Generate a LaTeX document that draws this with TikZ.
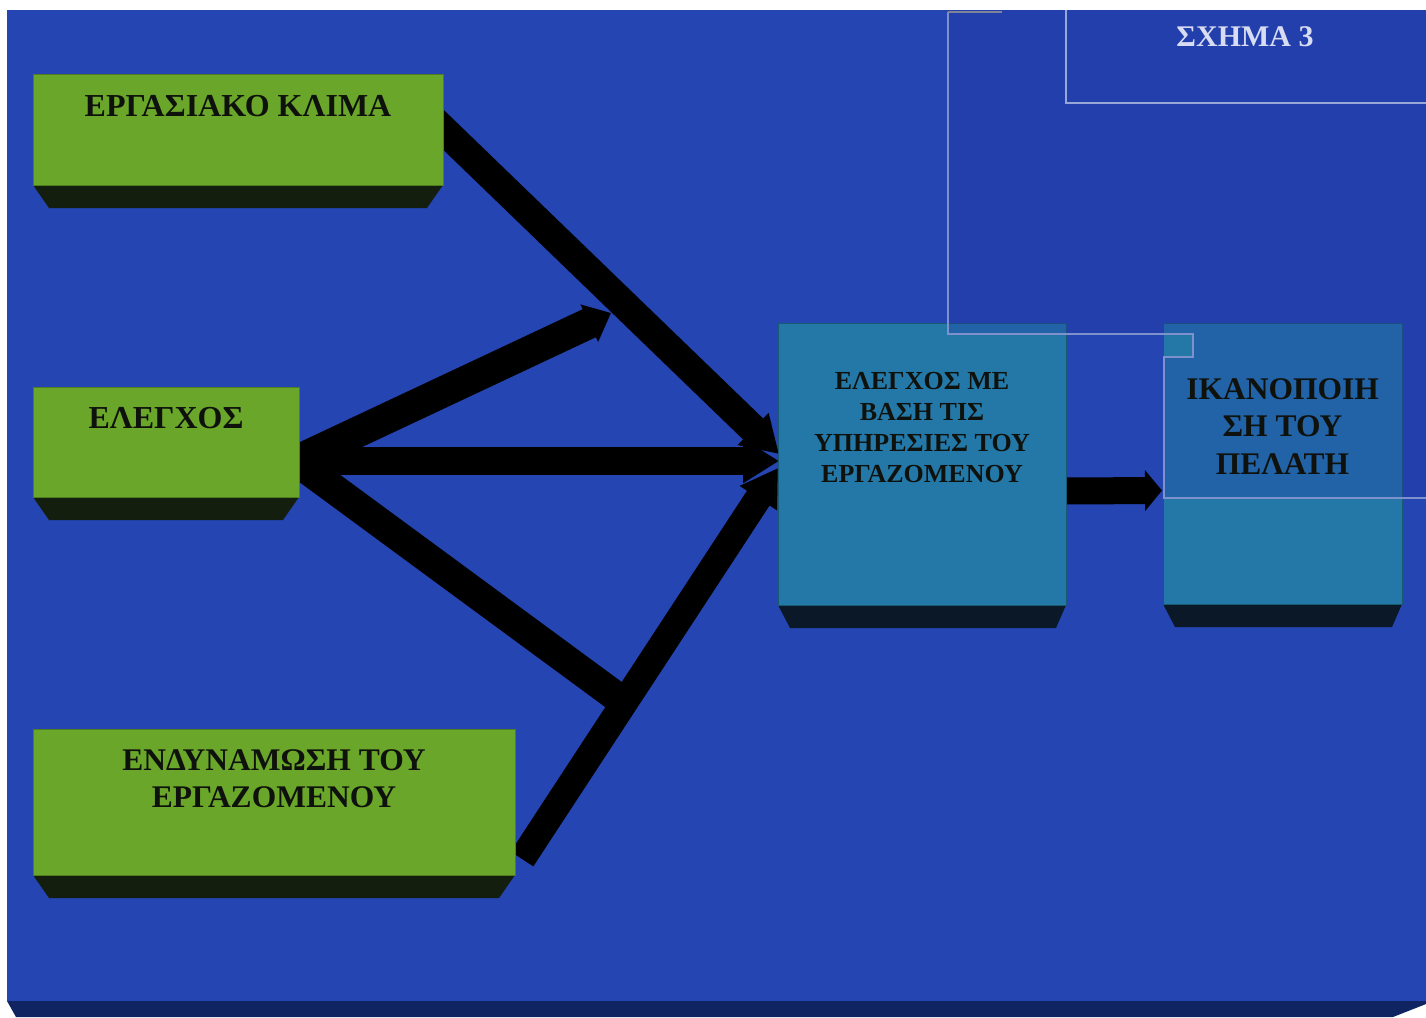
\documentclass[tikz,border=0pt]{standalone}
\usepackage{fontspec}
\setmainfont{Liberation Serif}
\usetikzlibrary{arrows.meta,calc}
\definecolor{bgblue}{RGB}{36,69,178}
\definecolor{stripblue}{RGB}{16,36,98}
\definecolor{boxgreen}{RGB}{106,166,42}
\definecolor{greenedge}{RGB}{80,125,32}
\definecolor{gshadow}{RGB}{20,30,14}
\definecolor{boxteal}{RGB}{36,120,168}
\definecolor{tealedge}{RGB}{25,90,115}
\definecolor{tshadow}{RGB}{10,24,40}
\definecolor{ovblue}{RGB}{30,52,162}
\definecolor{ovline}{RGB}{125,145,205}
\definecolor{txtdark}{RGB}{15,18,12}
\definecolor{titlecol}{RGB}{215,220,242}
\begin{document}
\begin{tikzpicture}[x=1pt,y=-1pt,
  gbox/.style={anchor=north west, inner sep=0pt, outer sep=0pt, fill=boxgreen, draw=greenedge, line width=1pt},
  tbox/.style={anchor=north west, inner sep=0pt, outer sep=0pt, fill=boxteal, draw=tealedge, line width=1pt},
  fat/.style={draw=black, line width=29pt},
  bighead/.style={-{Triangle[length=36pt,width=42pt]}},
  smallhead/.style={-{Triangle[length=24pt,width=40pt]}},
  lbl/.style={inner sep=0pt, align=center, text=txtdark, font=\bfseries\fontsize{32}{37}\selectfont}
]
\useasboundingbox (0,0) rectangle (1426,1017);
\fill[white] (0,0) rectangle (1426,1017);
% background panel
\fill[bgblue] (7,10) rectangle (1426,1001);
\fill[stripblue] (7,1001) -- (1426,1001) -- (1426,1004) -- (1393,1017) -- (16,1017) -- cycle;

% boxes (placed first so that connectors can refer to them)
\node[gbox, minimum width=410pt, minimum height=111pt] (b1) at (33,74) {};
\node[gbox, minimum width=266pt, minimum height=110pt] (b2) at (33,387) {};
\node[gbox, minimum width=482pt, minimum height=146pt] (b3) at (33,729) {};
\node[tbox, minimum width=288pt, minimum height=282pt] (b4) at (778,323) {};
\node[tbox, minimum width=239pt, minimum height=281pt] (b5) at (1163,323) {};

% connector end points
\coordinate (s1) at ($(b1.north east)+(-18,38)$);
\coordinate (s2) at ($(b2.east)+(-3,19)$);
\coordinate (s3) at ($(b3.east)+(7,57)$);
\coordinate (j1) at (611,313);
\coordinate (j2) at (625,703);
\coordinate (tA) at ($(b4.west)+(1,-10)$);
\coordinate (tB) at ($(b4.west)+(1,-3)$);
\coordinate (tC) at ($(b4.west)+(0,4)$);
\coordinate (s4) at ($(b4.east)+(-4,27)$);
\coordinate (t5) at ($(b5.west)+(-1,27)$);

% connectors (drawn below the boxes)
\draw[fat, bighead] (s1) -- (tA);
\draw[fat, line width=31pt, smallhead] (s2) -- (j1);
\draw[fat, line width=28pt, bighead] (s2) -- (tB);
\draw[fat, line width=30pt] (s2) -- (j2);
\draw[fat, line width=27pt, bighead] (s3) -- (tC);
\draw[fat, line width=27pt, -{Triangle[length=17pt,width=40pt]}] (s4) -- (t5);

% redraw boxes on top of connector tails, with their shadows
\foreach \b in {b1,b2,b3}{
  \fill[gshadow] (\b.south west) -- (\b.south east) -- ++(-16,23) -- ($(\b.south west)+(16,23)$) -- cycle;
  \filldraw[fill=boxgreen, draw=greenedge, line width=1pt] (\b.north west) rectangle (\b.south east);
}
\foreach \b in {b4,b5}{
  \fill[tshadow] (\b.south west) -- (\b.south east) -- ++(-10,23) -- ($(\b.south west)+(12,23)$) -- cycle;
  \filldraw[fill=boxteal, draw=tealedge, line width=1pt] (\b.north west) rectangle (\b.south east);
}

% translucent overlay frame (top right)
\fill[ovblue, opacity=0.32] (948,10) -- (1426,10) -- (1426,498) -- (1164,498) -- (1164,357)
  -- (1193,357) -- (1193,334) -- (948,334) -- cycle;
\draw[ovline, line width=1.2pt] (948,12) -- (948,334) -- (1193,334) -- (1193,357) -- (1164,357)
  -- (1164,498) -- (1426,498);
\draw[gray!70!ovline, line width=1.5pt] (948,12) -- (1002,12);
\draw[ovline!80!white, line width=2pt] (1066,10) -- (1066,103) -- (1426,103);

% texts
\node[lbl] (l1) at ($(b1.north)+(0,32)$) {ΕΡΓΑΣΙΑΚΟ ΚΛΙΜΑ};
\node[lbl] (l2) at ($(b2.north)+(0,31)$) {ΕΛΕΓΧΟΣ};
\node[lbl, font=\bfseries\fontsize{31.5}{37}\selectfont] (l3) at ($(b3.north)+(0,49.5)$) {ΕΝΔΥΝΑΜΩΣΗ ΤΟΥ\\ΕΡΓΑΖΟΜΕΝΟΥ};
\node[lbl, font=\bfseries\fontsize{26}{31}\selectfont] (l4) at ($(b4.north)+(0,105)$) {ΕΛΕΓΧΟΣ ΜΕ\\ΒΑΣΗ ΤΙΣ\\ΥΠΗΡΕΣΙΕΣ ΤΟΥ\\ΕΡΓΑΖΟΜΕΝΟΥ};
\node[lbl, font=\bfseries\fontsize{31.5}{37.5}\selectfont] (l5) at ($(b5.north)+(0,103.5)$) {ΙΚΑΝΟΠΟΙΗ\\ΣΗ ΤΟΥ\\ΠΕΛΑΤΗ};
\node[lbl, text=titlecol, font=\bfseries\fontsize{30}{36}\selectfont] (fig) at (1245,37) {ΣΧΗΜΑ 3};
\end{tikzpicture}
\end{document}
